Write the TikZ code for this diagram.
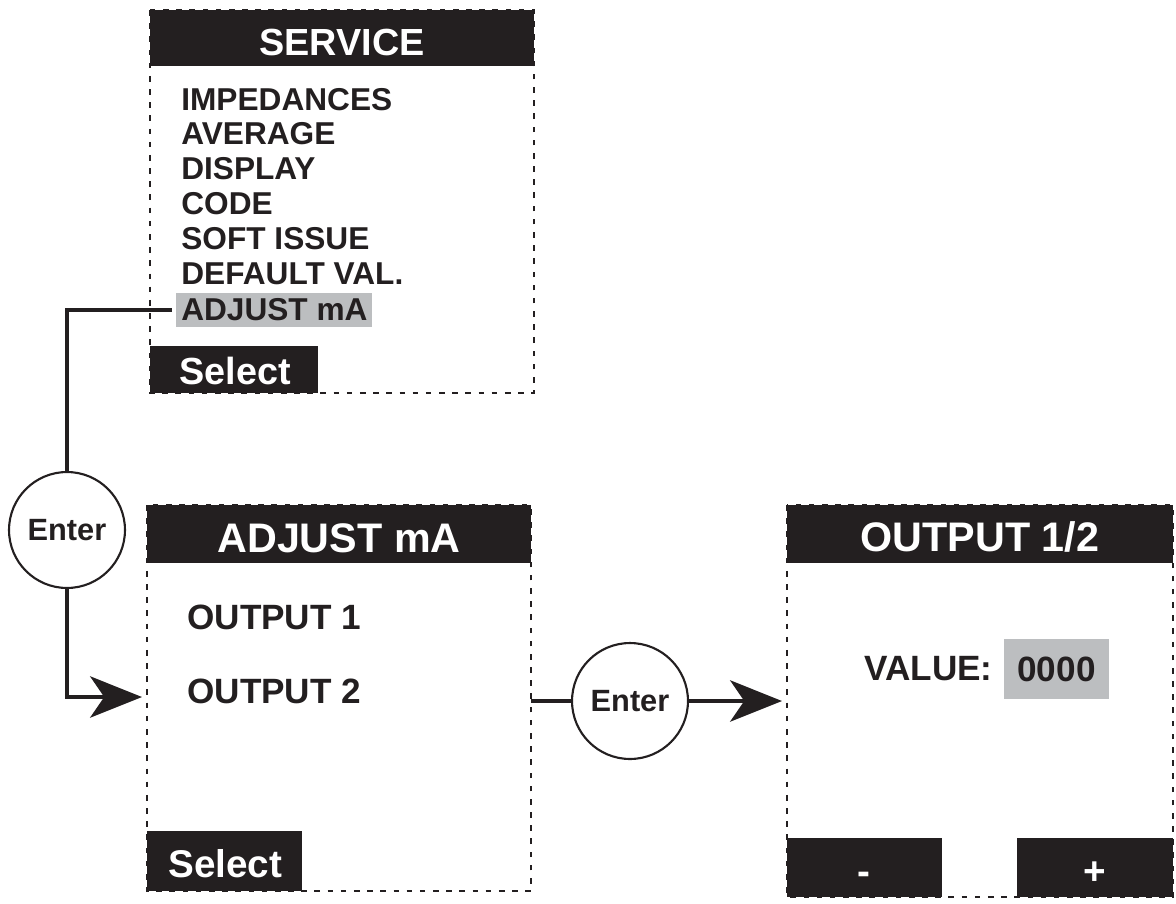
\documentclass[tikz,border=0pt]{standalone}
\usepackage{fontspec}
\setmainfont{Liberation Sans}
\usetikzlibrary{arrows.meta}
\definecolor{lcdblack}{HTML}{231F20}
\definecolor{lcdgray}{HTML}{BCBEC0}
\tikzset{
  panel/.style={draw=lcdblack, line width=1.5pt, dash pattern=on 3.2pt off 4.3pt},
  bar/.style={fill=lcdblack},
  conn/.style={draw=lcdblack, line width=2.3pt, line join=miter},
  titletext/.style={anchor=base, inner sep=0pt, text=white, font=\fontsize{23.5}{26}\selectfont\bfseries},
  headtext/.style={anchor=base, inner sep=0pt, text=white, font=\fontsize{21.5}{24}\selectfont\bfseries},
  menutext/.style={anchor=base west, inner sep=0pt, text=lcdblack, font=\fontsize{18}{20}\selectfont\bfseries},
  itemtext/.style={anchor=base west, inner sep=0pt, text=lcdblack, font=\fontsize{20}{22}\selectfont\bfseries},
  btntext/.style={anchor=base west, inner sep=0pt, text=white, font=\fontsize{22}{24}\selectfont\bfseries},
  keytext/.style={anchor=base, inner sep=0pt, text=white, font=\fontsize{22}{24}\selectfont\bfseries},
  enterkey/.style={circle, draw=lcdblack, line width=1.2pt, fill=white, minimum size=66pt, inner sep=0pt, text=lcdblack, font=\fontsize{17.5}{20}\selectfont\bfseries}
}
\begin{document}
\begin{tikzpicture}[x=0.02cm, y=-0.02cm, >={Stealth[length=29.5pt, width=23.5pt, inset=8pt]}]
  \useasboundingbox (0,0) rectangle (1176,903);

  % Panel corners
  \coordinate (S1) at (150,10);
  \coordinate (S2) at (534,393);
  \coordinate (A1) at (147,505);
  \coordinate (A2) at (531,891);
  \coordinate (O1) at (787,505);
  \coordinate (O2) at (1173,897);

  % SERVICE menu
  \draw[panel] (S1) rectangle (S2);
  \fill[bar] (S1) rectangle (534,66);
  \fill[bar] (150,346) rectangle (318,393);
  \node[headtext] (servicetitle) at (342,55) {SERVICE};
  \foreach \txt [count=\i from 0] in {IMPEDANCES, AVERAGE, DISPLAY, CODE, SOFT ISSUE, DEFAULT VAL.}
    \node[menutext] (menu\i) at (181,{110+34.8*\i}) {\txt};
  \node[menutext, anchor=west, fill=lcdgray, inner xsep=2.8pt, minimum height=19.3pt] (adjitem) at (176,310) {ADJUST mA};
  \node[btntext, font=\fontsize{21.5}{24}\selectfont\bfseries] (select1) at (179,384) {Select};

  % ADJUST mA menu
  \draw[panel] (A1) rectangle (A2);
  \fill[bar] (A1) rectangle (531,563);
  \fill[bar] (147,831) rectangle (302,891);
  \node[titletext] (adjtitle) at (339,552) {ADJUST mA};
  \node[itemtext] (out1) at (187,629) {OUTPUT 1};
  \node[itemtext] (out2) at (187,703) {OUTPUT 2};
  \node[btntext] (select2) at (168,877) {Select};

  % OUTPUT 1/2 screen
  \draw[panel] (O1) rectangle (O2);
  \fill[bar] (O1) rectangle (1173,563);
  \fill[bar] (787,838) rectangle (942,897);
  \fill[bar] (1017,838) rectangle (O2);
  \node[titletext] (outtitle) at (980,551) {OUTPUT 1/2};
  \node[itemtext] (valuelabel) at (864,680) {VALUE:};
  \node[itemtext, anchor=center, fill=lcdgray, minimum width=59.7pt, minimum height=34.1pt] (valuebox) at (1056.5,669) {0000};
  \node[keytext] (minuskey) at (864,884) {-};
  \node[keytext] (pluskey) at (1095,884) {+};

  % Enter keys and connectors
  \node[enterkey] (enterA) at (67,530) {Enter};
  \node[enterkey] (enterB) at (630,701) {Enter};
  \coordinate (tipA) at (142,697);
  \coordinate (tipB) at (782,701);

  \draw[conn, shorten <=2.3pt] (adjitem.west) -| (enterA.north);
  \draw[conn, ->] (enterA.south) |- (tipA);
  \draw[conn] (enterB.west -| A2) -- (enterB.west);
  \draw[conn, ->] (enterB.east) -- (tipB);
\end{tikzpicture}
\end{document}
